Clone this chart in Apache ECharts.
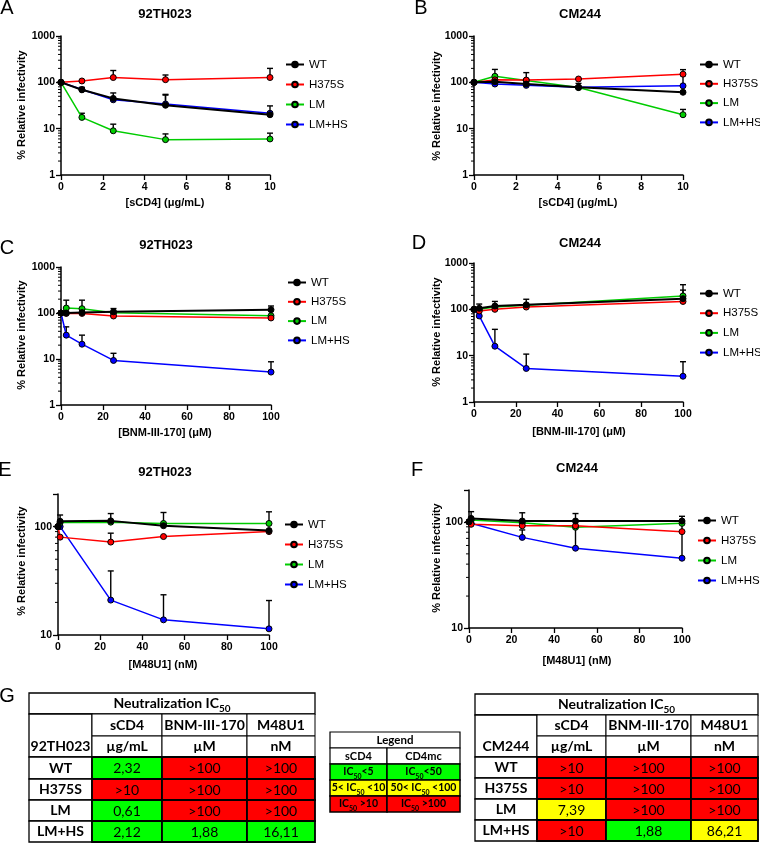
<!DOCTYPE html>
<html><head><meta charset="utf-8">
<script src="https://cdn.jsdelivr.net/npm/echarts@6.0.0/dist/echarts.min.js"></script>
<style>html,body{margin:0;padding:0;background:#fff}#c{width:760px;height:843px}</style>
</head><body><div id="c"></div><script>
const FONT = '"Liberation Sans", Arial, Helvetica, sans-serif';
const TFONT = 'Lato, "Open Sans", "Liberation Sans", sans-serif';

// ---------------- data ----------------
const seriesNames = ['WT', 'H375S', 'LM', 'LM+HS'];
const seriesColors = ['#000000', '#ff0000', '#00cc00', '#0000ff'];
const strains = ['92TH023', 'CM244', '92TH023', 'CM244', '92TH023', 'CM244'];
const panelLetters = ['A', 'B', 'C', 'D', 'E', 'F'];
const xNames = ['[sCD4] (\u03bcg/mL)', '[sCD4] (\u03bcg/mL)', '[BNM-III-170] (\u03bcM)', '[BNM-III-170] (\u03bcM)', '[M48U1] (nM)', '[M48U1] (nM)'];
const yName = '% Relative infectivity';

const xSCD4 = [0, 1, 2.5, 5, 10];
const xBNM = [0, 2.5, 10, 25, 100];
const xM48 = [0, 1, 25, 50, 100];

// A: 92TH023 sCD4
const A_WT = [100, 69, 45, 32, 20];
const A_H375S = [100, 107, 127, 114, 127];
const A_LM = [100, 17.5, 9, 5.8, 6];
const A_LMHS = [100, 70, 42, 34, 21.5];
const A_WT_err = [null, 78, 59, 53, 31];
const A_H375S_err = [null, null, 180, 144, 200];
const A_LM_err = [null, 21.5, 12.5, 7.7, 8];
const A_LMHS_err = [null, null, null, 55, null];
// B: CM244 sCD4
const B_WT = [100, 103, 92, 78, 61];
const B_H375S = [100, 113, 112, 118, 150];
const B_LM = [100, 135, 110, 77, 20];
const B_LMHS = [100, 92, 86, 78, 84];
const B_WT_err = [null, 118, null, 95, null];
const B_H375S_err = [null, null, 162, null, 188];
const B_LM_err = [null, 190, null, null, 26];
const B_LMHS_err = [null, null, null, null, 140];
// C: 92TH023 BNM-III-170
const C_WT = [100, 100, 102, 106, 118];
const C_H375S = [100, 98, 98, 86, 78];
const C_LM = [100, 128, 124, 101, 87];
const C_LMHS = [100, 33, 21, 9.3, 5.2];
const C_WT_err = [null, null, null, 125, 142];
const C_H375S_err = [null, null, null, null, null];
const C_LM_err = [null, 190, 190, null, null];
const C_LMHS_err = [null, 50, 33, 13.3, 8.7];
// D: CM244 BNM-III-170
const D_WT = [100, 105, 118, 125, 170];
const D_H375S = [100, 92, 100, 112, 148];
const D_LM = [100, 100, 112, 122, 195];
const D_LMHS = [100, 72, 16, 5.3, 3.6];
const D_WT_err = [null, 130, 148, 165, 340];
const D_H375S_err = [null, null, null, null, null];
const D_LM_err = [null, null, null, null, 260];
const D_LMHS_err = [null, null, 37, 10.8, 7.4];
// E: 92TH023 M48U1
const E_WT = [100, 112, 113, 102, 92];
const E_H375S = [100, 80, 72, 81, 90];
const E_LM = [100, 109, 110, 107, 107];
const E_LMHS = [100, 100, 21, 13.8, 11.4];
const E_WT_err = [null, 128, 132, null, null];
const E_H375S_err = [null, null, 87, null, null];
const E_LM_err = [null, null, null, 135, 137];
const E_LMHS_err = [null, null, 39, 23.5, 20.8];
// F: CM244 M48U1
const F_WT = [100, 108, 102, 102, 102];
const F_H375S = [100, 95, 92, 92, 81];
const F_LM = [100, 104, 98, 89, 97];
const F_LMHS = [100, 97, 71.5, 56.5, 45.5];
const F_WT_err = [null, 125, 122, 120, 113];
const F_H375S_err = [null, null, null, null, null];
const F_LM_err = [null, null, null, null, null];
const F_LMHS_err = [null, null, 84, 92, 100];

const xMaxs = [10, 10, 100, 100, 100, 100];
const xIntervals = [2, 2, 20, 20, 20, 20];
const yMins = [1, 1, 1, 1, 10, 10];
const yMaxs = [1000, 1000, 1000, 1000, 200, 200];
const minorTicksWide = [2, 3, 4, 5, 6, 7, 8, 9, 20, 30, 40, 50, 60, 70, 80, 90, 200, 300, 400, 500, 600, 700, 800, 900];
const minorTicksNarrow = [20, 30, 40, 50, 60, 70, 80, 90];

// tables
const tableTitle = 'Neutralization IC50';
const drugCols = ['sCD4', 'BNM-III-170', 'M48U1'];
const drugUnits = ['\u00b5g/mL', '\u00b5M', 'nM'];
const rowNames = ['WT', 'H375S', 'LM', 'LM+HS'];
const leftStrain = '92TH023';
const leftValues = [['2,32', '>100', '>100'], ['>10', '>100', '>100'], ['0,61', '>100', '>100'], ['2,12', '1,88', '16,11']];
const leftClasses = [['g', 'r', 'r'], ['r', 'r', 'r'], ['g', 'r', 'r'], ['g', 'g', 'g']];
const rightStrain = 'CM244';
const rightValues = [['>10', '>100', '>100'], ['>10', '>100', '>100'], ['7,39', '>100', '>100'], ['>10', '1,88', '86,21']];
const rightClasses = [['r', 'r', 'r'], ['r', 'r', 'r'], ['y', 'r', 'r'], ['r', 'g', 'y']];
const legendTitle = 'Legend';
const legendHead = ['sCD4', 'CD4mc'];
const legendRows = [['IC50<5', 'IC50<50'], ['5< IC50 <10', '50< IC50 <100'], ['IC50 >10', 'IC50 >100']];
const legendClasses = ['g', 'y', 'r'];
const classColors = { g: '#00ff00', y: '#ffff00', r: '#ff0000' };

// ---------------- layout ----------------
const grids = [
  { l: 61, t: 36, r: 270, b: 175 },
  { l: 474, t: 36, r: 683, b: 175 },
  { l: 61, t: 267, r: 271, b: 405 },
  { l: 474, t: 263, r: 683, b: 402 },
  { l: 58, t: 494, r: 269, b: 635 },
  { l: 469, t: 490, r: 682, b: 628 }
];
// center of first legend row, row pitch
const legendPos = [
  { left: 285, c: 62, pitch: 15 }, { left: 699, c: 62, pitch: 14.3 },
  { left: 287, c: 280, pitch: 14.3 }, { left: 699, c: 291, pitch: 14.7 },
  { left: 284, c: 522, pitch: 15 }, { left: 697, c: 518, pitch: 15 }
];
const letterPos = [[7, 8], [421, 8], [7, 248], [419, 243], [5, 470], [417, 470]];
const titlePos = [[165, 14], [580, 14], [166, 245], [580, 243], [165, 472], [577, 468]];
const xNamePos = [[165, 203], [578, 203], [165, 433], [579, 432], [163, 665], [577, 661]];
const yNamePos = [[22, 105], [437, 106], [22, 335], [437, 332], [22, 561], [437, 558]];

const panels = [
  { x: xSCD4, vals: [A_WT, A_H375S, A_LM, A_LMHS], errs: [A_WT_err, A_H375S_err, A_LM_err, A_LMHS_err] },
  { x: xSCD4, vals: [B_WT, B_H375S, B_LM, B_LMHS], errs: [B_WT_err, B_H375S_err, B_LM_err, B_LMHS_err] },
  { x: xBNM, vals: [C_WT, C_H375S, C_LM, C_LMHS], errs: [C_WT_err, C_H375S_err, C_LM_err, C_LMHS_err] },
  { x: xBNM, vals: [D_WT, D_H375S, D_LM, D_LMHS], errs: [D_WT_err, D_H375S_err, D_LM_err, D_LMHS_err] },
  { x: xM48, vals: [E_WT, E_H375S, E_LM, E_LMHS], errs: [E_WT_err, E_H375S_err, E_LM_err, E_LMHS_err] },
  { x: xM48, vals: [F_WT, F_H375S, F_LM, F_LMHS], errs: [F_WT_err, F_H375S_err, F_LM_err, F_LMHS_err] }
];

function isPow10(v) { const l = Math.log10(v); return Math.abs(l - Math.round(l)) < 1e-6; }

const option = { animation: false, grid: [], xAxis: [], yAxis: [], series: [], legend: [], graphic: { elements: [] } };
const G = option.graphic.elements;
const LEG_H = 7;

panels.forEach((p, i) => {
  const g = grids[i];
  option.grid.push({ left: g.l, top: g.t, width: g.r - g.l, height: g.b - g.t, containLabel: false, outerBoundsMode: 'none' });
  option.xAxis.push({
    type: 'value', gridIndex: i, min: 0, max: xMaxs[i], interval: xIntervals[i],
    axisLine: { show: true, onZero: false, lineStyle: { color: '#000', width: 1.5 } },
    axisTick: { show: true, length: 5, lineStyle: { color: '#000', width: 1.3 } },
    splitLine: { show: false },
    axisLabel: { fontFamily: FONT, fontSize: 10.5, fontWeight: 'bold', color: '#000', margin: 7 }
  });
  option.yAxis.push({
    type: 'log', logBase: 10, gridIndex: i, min: yMins[i], max: yMaxs[i],
    axisLine: { show: true, onZero: false, lineStyle: { color: '#000', width: 1.5 } },
    axisTick: { show: true, length: 5, lineStyle: { color: '#000', width: 1.3 } },
    splitLine: { show: false },
    axisLabel: { fontFamily: FONT, fontSize: 10.5, fontWeight: 'bold', color: '#000', margin: 6,
      formatter: v => isPow10(v) ? String(Math.round(v)) : '' }
  });
  // minor ticks on log axis
  const minors = yMaxs[i] === 1000 ? minorTicksWide : minorTicksNarrow;
  option.series.push({
    type: 'custom', xAxisIndex: i, yAxisIndex: i, clip: false, silent: true, z: 1,
    data: minors.map(v => [0, v]),
    renderItem: (params, api) => {
      const pt = api.coord([api.value(0), api.value(1)]);
      return { type: 'line', shape: { x1: pt[0] - 3, y1: pt[1], x2: pt[0], y2: pt[1] }, style: { stroke: '#000', lineWidth: 1 } };
    }
  });
  // error bars
  const eb = [];
  p.vals.forEach((vals, s) => {
    p.errs[s].forEach((e, k) => { if (e != null) eb.push([p.x[k], vals[k], e]); });
  });
  option.series.push({
    type: 'custom', xAxisIndex: i, yAxisIndex: i, clip: false, silent: true, z: 2,
    encode: { x: 0, y: 1 },
    data: eb,
    renderItem: (params, api) => {
      const p0 = api.coord([api.value(0), api.value(1)]);
      const p1 = api.coord([api.value(0), api.value(2)]);
      return { type: 'group', children: [
        { type: 'line', shape: { x1: p0[0], y1: p0[1], x2: p1[0], y2: p1[1] }, style: { stroke: '#000', lineWidth: 1.4 } },
        { type: 'line', shape: { x1: p1[0] - 3, y1: p1[1], x2: p1[0] + 3, y2: p1[1] }, style: { stroke: '#000', lineWidth: 1.4 } }
      ] };
    }
  });
  // lines (draw LM+HS first, WT last)
  [3, 2, 1, 0].forEach(s => {
    option.series.push({
      type: 'line', name: seriesNames[s], xAxisIndex: i, yAxisIndex: i, z: 3,
      data: p.x.map((xv, k) => [xv, p.vals[s][k]]),
      symbol: 'circle', symbolSize: 6, showSymbol: true,
      lineStyle: { color: seriesColors[s], width: s === 0 ? 2 : 1.5 },
      itemStyle: { color: seriesColors[s], borderColor: '#000', borderWidth: 1 },
      emphasis: { disabled: true }
    });
  });
  const lp = legendPos[i];
  option.legend.push({
    left: lp.left, top: lp.c - LEG_H / 2, orient: 'vertical', padding: 0, itemWidth: 18, itemHeight: LEG_H, itemGap: lp.pitch - LEG_H,
    selectedMode: false, data: seriesNames,
    textStyle: { fontFamily: FONT, fontSize: 11.5, color: '#000', padding: [0, 0, 0, 0] }
  });
  // texts
  G.push({ type: 'text', x: letterPos[i][0], y: letterPos[i][1], silent: true,
    style: { text: panelLetters[i], font: '20px ' + FONT, fill: '#000', align: 'center', verticalAlign: 'middle', textAlign: 'center', textVerticalAlign: 'middle' } });
  G.push({ type: 'text', x: titlePos[i][0], y: titlePos[i][1], silent: true,
    style: { text: strains[i], font: 'bold 13px ' + FONT, fill: '#000', align: 'center', verticalAlign: 'middle', textAlign: 'center', textVerticalAlign: 'middle' } });
  G.push({ type: 'text', x: xNamePos[i][0], y: xNamePos[i][1], silent: true,
    style: { text: xNames[i], font: 'bold 11px ' + FONT, fill: '#000', align: 'center', verticalAlign: 'middle', textAlign: 'center', textVerticalAlign: 'middle' } });
  G.push({ type: 'text', x: yNamePos[i][0], y: yNamePos[i][1], rotation: Math.PI / 2, silent: true,
    style: { text: yName, font: 'bold 11px ' + FONT, fill: '#000', align: 'center', verticalAlign: 'middle', textAlign: 'center', textVerticalAlign: 'middle' } });
});

G.push({ type: 'text', x: 7, y: 696, silent: true,
  style: { text: 'G', font: '20px ' + FONT, fill: '#000', align: 'center', verticalAlign: 'middle', textAlign: 'center', textVerticalAlign: 'middle' } });

// -------- tables --------
function richIC(str) {
  const parts = str.split('IC50');
  return parts.map(pp => pp ? '{t|' + pp + '}' : '').join('{t|IC}{s|50}');
}
function rect(x1, y1, x2, y2, fill, lw) {
  G.push({ type: 'rect', silent: true, shape: { x: x1, y: y1, width: x2 - x1, height: y2 - y1 }, style: { fill: fill, stroke: '#000', lineWidth: lw } });
}
function ctext(cx, cy, text, size, weight, withSub) {
  const st = { fill: '#000', align: 'center', verticalAlign: 'middle', textAlign: 'center', textVerticalAlign: 'middle' };
  if (withSub && text.indexOf('IC50') >= 0) {
    st.text = richIC(text);
    const ss = Math.round(size * 0.7);
    st.rich = {
      t: { fontSize: size, fontWeight: weight, fontFamily: TFONT, fill: '#000', lineHeight: size + 6 },
      s: { fontSize: ss, fontWeight: weight, fontFamily: TFONT, fill: '#000', lineHeight: ss + 2, verticalAlign: 'bottom' }
    };
  } else {
    st.text = text;
    st.font = weight + ' ' + size + 'px ' + TFONT;
  }
  G.push({ type: 'text', x: cx, y: cy, silent: true, style: st });
}
function drawTable(colX, rowY, strain, values, classes) {
  const fs = 14;
  rect(colX[0], rowY[0], colX[4], rowY[1], '#fff', 1.3);
  ctext((colX[0] + colX[4]) / 2, (rowY[0] + rowY[1]) / 2, tableTitle, fs, 'bold', true);
  rect(colX[0], rowY[1], colX[1], rowY[3], '#fff', 1.3);
  ctext((colX[0] + colX[1]) / 2, (rowY[2] + rowY[3]) / 2, strain, fs, 'bold');
  for (let j = 0; j < 3; j++) {
    rect(colX[j + 1], rowY[1], colX[j + 2], rowY[2], '#fff', 1);
    ctext((colX[j + 1] + colX[j + 2]) / 2, (rowY[1] + rowY[2]) / 2, drugCols[j], fs, 'bold');
    rect(colX[j + 1], rowY[2], colX[j + 2], rowY[3], '#fff', 1);
    ctext((colX[j + 1] + colX[j + 2]) / 2, (rowY[2] + rowY[3]) / 2, drugUnits[j], fs, 'bold');
  }
  for (let r = 0; r < rowNames.length; r++) {
    const y1 = rowY[r + 3], y2 = rowY[r + 4];
    rect(colX[0], y1, colX[1], y2, '#fff', 1.3);
    ctext((colX[0] + colX[1]) / 2, (y1 + y2) / 2, rowNames[r], fs, 'bold');
  }
  for (let r = 0; r < rowNames.length; r++) {
    const y1 = rowY[r + 3], y2 = rowY[r + 4];
    for (let j = 0; j < 3; j++) {
      rect(colX[j + 1], y1, colX[j + 2], y2, classColors[classes[r][j]], 1.8);
      ctext((colX[j + 1] + colX[j + 2]) / 2, (y1 + y2) / 2 + 0.5, values[r][j], fs, 'normal');
    }
  }
}
drawTable([29, 92, 162, 247, 315], [693, 714, 736, 757, 779, 800, 821, 842], leftStrain, leftValues, leftClasses);
drawTable([475, 537, 606, 691, 758], [694, 715, 736, 757, 778, 799, 820, 841], rightStrain, rightValues, rightClasses);

// legend table
(function () {
  const colX = [330, 387, 460];
  const rowY = [732, 748, 764, 780, 796, 812];
  rect(colX[0], rowY[0], colX[2], rowY[1], '#fff', 1.2);
  ctext((colX[0] + colX[2]) / 2, (rowY[0] + rowY[1]) / 2, legendTitle, 11.5, 'bold');
  for (let j = 0; j < 2; j++) {
    rect(colX[j], rowY[1], colX[j + 1], rowY[2], '#fff', 1.2);
    ctext((colX[j] + colX[j + 1]) / 2, (rowY[1] + rowY[2]) / 2, legendHead[j], 11, 'bold');
  }
  for (let r = 0; r < legendRows.length; r++) {
    for (let j = 0; j < 2; j++) {
      rect(colX[j], rowY[r + 2], colX[j + 1], rowY[r + 3], classColors[legendClasses[r]], 1.5);
      ctext((colX[j] + colX[j + 1]) / 2, (rowY[r + 2] + rowY[r + 3]) / 2, legendRows[r][j], 10.5, 'bold', true);
    }
  }
})();

const chart = echarts.init(document.getElementById('c'), null, { renderer: 'canvas' });
chart.setOption(option);
</script></body></html>
